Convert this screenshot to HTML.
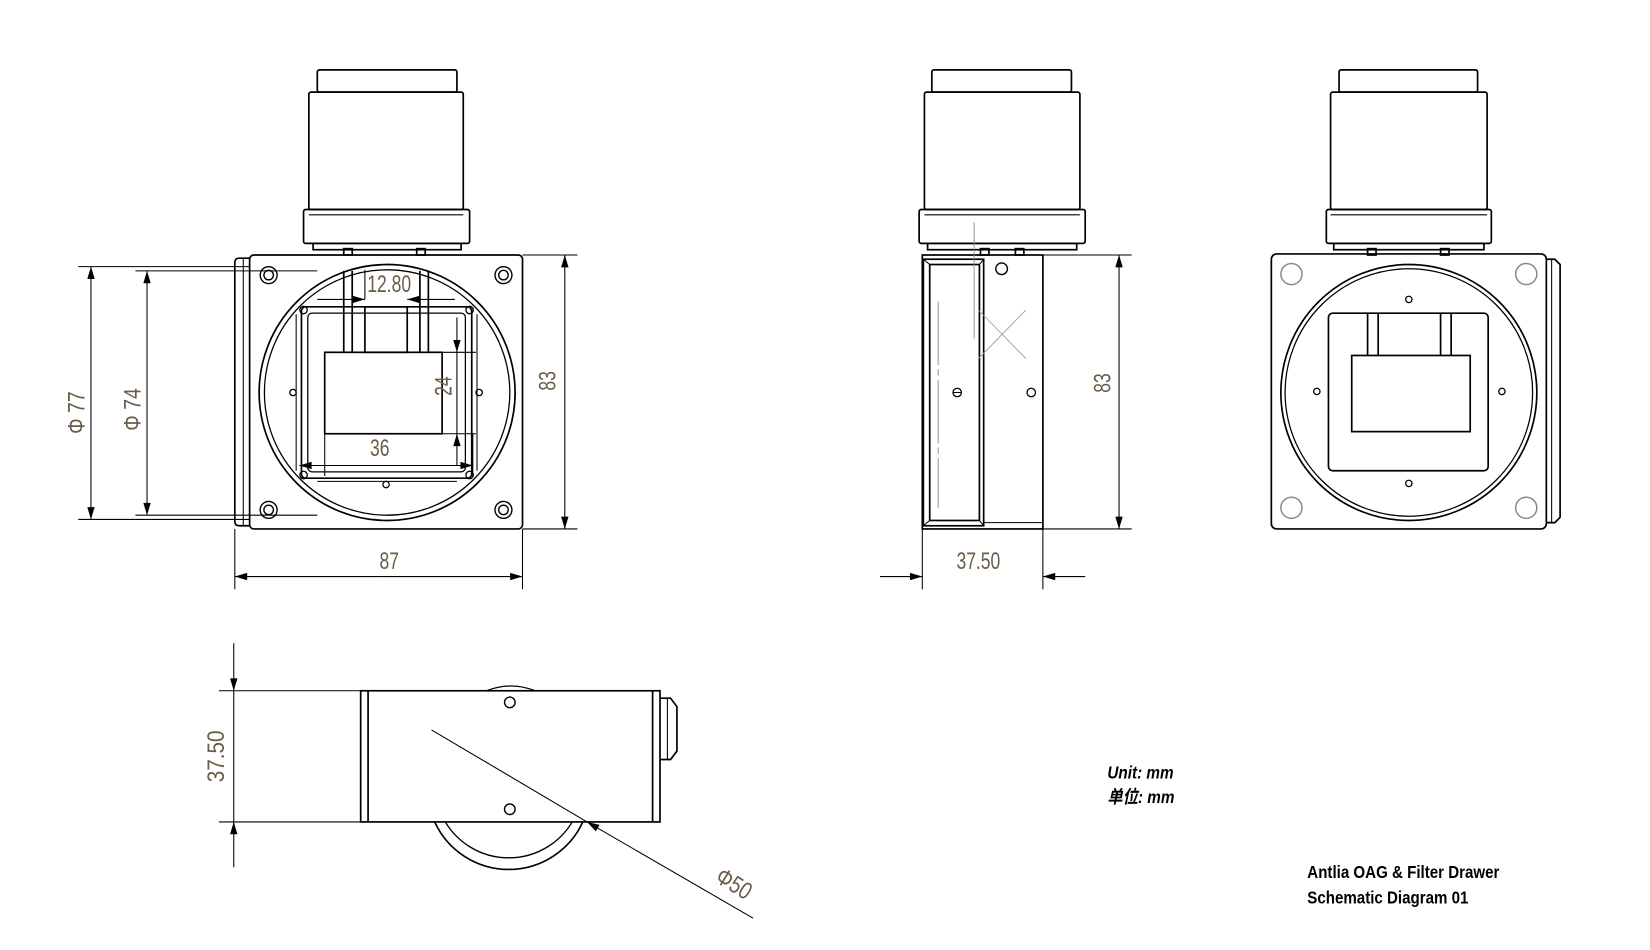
<!DOCTYPE html>
<html><head><meta charset="utf-8"><style>
html,body{margin:0;padding:0;background:#fff;}
svg{display:block;}
.d{font-family:"Liberation Sans",sans-serif;fill:#6b5c48;font-size:23px;}
.t{font-family:"Liberation Sans","Noto Sans CJK SC",sans-serif;font-weight:bold;fill:#000;}
</style></head><body>
<svg width="1650" height="950" viewBox="0 0 1560 898" xmlns="http://www.w3.org/2000/svg">
<defs>
<marker id="a" viewBox="0 0 10 6" refX="10" refY="3" markerWidth="20" markerHeight="7" markerUnits="userSpaceOnUse" orient="auto"><path d="M0,0L10,3L0,6z" fill="#000"/></marker>
</defs>
<g fill="none" stroke="#000" stroke-width="1.6">
<!-- LEFT FRONT VIEW -->
<rect x="300" y="66" width="132" height="21" rx="2"/>
<rect x="292" y="87" width="146" height="111" rx="2"/>
<rect x="287" y="198" width="157" height="32" rx="2"/>
<line x1="292" y1="203" x2="438" y2="203" stroke-width="1"/>
<rect x="296" y="230" width="140" height="6"/>
<rect x="325" y="235" width="8" height="6"/><rect x="394" y="235" width="8" height="6"/>
<rect x="236" y="241" width="258" height="259" rx="4"/>
<path d="M236 244 H226 Q222 244 222 248 V493 Q222 497 226 497 H236"/>
<line x1="230" y1="244" x2="230" y2="497" stroke-width="1"/>
<circle cx="366" cy="371" r="121"/><circle cx="366" cy="371" r="116" stroke-width="1.2"/>
<g stroke-width="1.3">
<circle cx="254" cy="260" r="8"/><circle cx="254" cy="260" r="4.5"/>
<circle cx="476" cy="260" r="8"/><circle cx="476" cy="260" r="4.5"/>
<circle cx="254" cy="482" r="8"/><circle cx="254" cy="482" r="4.5"/>
<circle cx="476" cy="482" r="8"/><circle cx="476" cy="482" r="4.5"/>
</g>
<rect x="285" y="290" width="161" height="162" rx="4"/>
<rect x="291" y="296" width="149" height="150" rx="4" stroke-width="1.2"/>
<line x1="280" y1="297" x2="280" y2="445" stroke-width="1"/><line x1="451" y1="297" x2="451" y2="445" stroke-width="1"/>
<line x1="300" y1="455" x2="432" y2="455" stroke-width="1"/>
<g stroke-width="1.2">
<circle cx="287" cy="293" r="3.5"/><circle cx="444" cy="293" r="3.5"/>
<circle cx="287" cy="449" r="3.5"/><circle cx="444" cy="449" r="3.5"/>
<circle cx="365" cy="458" r="3"/><circle cx="277" cy="371" r="3"/><circle cx="453" cy="371" r="3"/>
</g>
<line x1="325" y1="256" x2="325" y2="333"/><line x1="333" y1="256" x2="333" y2="333"/>
<line x1="397" y1="256" x2="397" y2="333"/><line x1="405" y1="256" x2="405" y2="333"/>
<rect x="345" y="290" width="40" height="43"/>
<rect x="307" y="333" width="111" height="77"/>
<line x1="418" y1="333" x2="450" y2="333" stroke-width="1"/><line x1="418" y1="410" x2="450" y2="410" stroke-width="1"/>
<line x1="307" y1="410" x2="307" y2="450" stroke-width="1"/><line x1="447" y1="410" x2="447" y2="450" stroke-width="1"/>
<g stroke-width="1">
<line x1="300" y1="283" x2="345" y2="283" marker-end="url(#a)"/>
<line x1="430" y1="283" x2="385" y2="283" marker-end="url(#a)"/>
<line x1="345" y1="283" x2="345" y2="255"/>
<line x1="432" y1="300" x2="432" y2="333" marker-end="url(#a)"/>
<line x1="432" y1="333" x2="432" y2="410"/>
<line x1="432" y1="440" x2="432" y2="410" marker-end="url(#a)"/>
<line x1="307" y1="440" x2="283" y2="440" marker-end="url(#a)"/>
<line x1="307" y1="440" x2="418" y2="440"/>
<line x1="418" y1="440" x2="447" y2="440" marker-end="url(#a)"/>
<line x1="74" y1="252" x2="236" y2="252"/><line x1="74" y1="491" x2="236" y2="491"/>
<line x1="128" y1="256" x2="300" y2="256"/><line x1="128" y1="487" x2="300" y2="487"/>
<line x1="86" y1="372" x2="86" y2="252" marker-end="url(#a)"/><line x1="86" y1="372" x2="86" y2="491" marker-end="url(#a)"/>
<line x1="139" y1="372" x2="139" y2="256" marker-end="url(#a)"/><line x1="139" y1="372" x2="139" y2="487" marker-end="url(#a)"/>
<line x1="494" y1="241" x2="546" y2="241"/><line x1="494" y1="500" x2="546" y2="500"/>
<line x1="534" y1="370" x2="534" y2="241" marker-end="url(#a)"/><line x1="534" y1="370" x2="534" y2="500" marker-end="url(#a)"/>
<line x1="222" y1="500" x2="222" y2="557"/><line x1="494" y1="500" x2="494" y2="557"/>
<line x1="358" y1="545" x2="222" y2="545" marker-end="url(#a)"/><line x1="358" y1="545" x2="494" y2="545" marker-end="url(#a)"/>
</g>

<!-- MIDDLE SIDE VIEW -->
<rect x="881" y="66" width="132" height="21" rx="2"/>
<rect x="874" y="87" width="147" height="111" rx="2"/>
<rect x="869" y="198" width="157" height="32" rx="2"/>
<line x1="874" y1="203" x2="1021" y2="203" stroke-width="1"/>
<rect x="877" y="230" width="141" height="6"/>
<rect x="927" y="235" width="8" height="6"/><rect x="960" y="235" width="8" height="6"/>
<rect x="872" y="241" width="114" height="259"/>
<rect x="873" y="245" width="57" height="252"/>
<rect x="879" y="250" width="47" height="242"/>
<line x1="873" y1="245" x2="879" y2="250" stroke-width="1"/><line x1="930" y1="245" x2="926" y2="250" stroke-width="1"/>
<line x1="873" y1="497" x2="879" y2="492" stroke-width="1"/><line x1="930" y1="497" x2="926" y2="492" stroke-width="1"/>
<line x1="930" y1="494" x2="986" y2="494" stroke-width="1"/>
<line x1="887" y1="285" x2="887" y2="480" stroke="#999" stroke-width="1" stroke-dasharray="60 4 6 4"/>
<line x1="921" y1="210" x2="921" y2="320" stroke="#888" stroke-width="0.8"/>
<g stroke="#999" stroke-width="0.8">
<line x1="925" y1="293" x2="970" y2="339"/><line x1="970" y1="293" x2="925" y2="339"/>
</g>
<circle cx="947" cy="254" r="5.5" stroke-width="1.3"/>
<circle cx="905" cy="371" r="4" stroke-width="1.2"/><line x1="901" y1="371" x2="909" y2="371" stroke-width="1"/>
<circle cx="975" cy="371" r="4" stroke-width="1.2"/>
<g stroke-width="1">
<line x1="986" y1="241" x2="1070" y2="241"/><line x1="986" y1="500" x2="1070" y2="500"/>
<line x1="1058" y1="370" x2="1058" y2="241" marker-end="url(#a)"/><line x1="1058" y1="370" x2="1058" y2="500" marker-end="url(#a)"/>
<line x1="872" y1="500" x2="872" y2="557"/><line x1="986" y1="500" x2="986" y2="557"/>
<line x1="832" y1="545" x2="872" y2="545" marker-end="url(#a)"/>
<line x1="1026" y1="545" x2="986" y2="545" marker-end="url(#a)"/>
</g>

<!-- RIGHT VIEW -->
<rect x="1266" y="66" width="131" height="21" rx="2"/>
<rect x="1258" y="87" width="148" height="111" rx="2"/>
<rect x="1254" y="198" width="156" height="32" rx="2"/>
<line x1="1258" y1="203" x2="1406" y2="203" stroke-width="1"/>
<rect x="1261" y="230" width="142" height="6"/>
<rect x="1293" y="235" width="8" height="6"/><rect x="1362" y="235" width="8" height="6"/>
<rect x="1202" y="240" width="260" height="260" rx="5"/>
<path d="M1462 245 H1470 L1475 250 V489 L1470 494 H1462"/>
<line x1="1467" y1="245" x2="1467" y2="494" stroke-width="1"/>
<circle cx="1332" cy="371" r="121"/><circle cx="1332" cy="371" r="117" stroke-width="1.2"/>
<g stroke="#888" stroke-width="1.4">
<circle cx="1221" cy="259" r="10"/><circle cx="1443" cy="259" r="10"/>
<circle cx="1221" cy="480" r="10"/><circle cx="1443" cy="480" r="10"/>
</g>
<rect x="1256" y="296" width="151" height="149" rx="4"/>
<line x1="1293" y1="296" x2="1293" y2="336"/><line x1="1303" y1="296" x2="1303" y2="336"/>
<line x1="1362" y1="296" x2="1362" y2="336"/><line x1="1372" y1="296" x2="1372" y2="336"/>
<rect x="1278" y="336" width="112" height="72"/>
<g stroke-width="1.2">
<circle cx="1332" cy="283" r="3"/><circle cx="1332" cy="457" r="3"/>
<circle cx="1245" cy="370" r="3"/><circle cx="1420" cy="370" r="3"/>
</g>

<!-- BOTTOM VIEW -->
<path d="M411 777 A77 77 0 0 0 551 777"/>
<path d="M421 777 A70 70 0 0 0 541 777" stroke-width="1.3"/>
<path d="M460 653 Q483 644 506 653" stroke-width="1.2"/>
<rect x="341" y="653" width="283" height="124"/>
<line x1="348" y1="653" x2="348" y2="777"/><line x1="617" y1="653" x2="617" y2="777"/>
<path d="M624 660 H634 L640 668 V710 L634 718 H624"/><line x1="631" y1="660" x2="631" y2="718" stroke-width="1"/>
<circle cx="482" cy="664" r="5" stroke-width="1.3"/><circle cx="482" cy="765" r="5" stroke-width="1.3"/>
<g stroke-width="1">
<line x1="207" y1="653" x2="341" y2="653"/><line x1="207" y1="777" x2="341" y2="777"/>
<line x1="221" y1="608" x2="221" y2="653" marker-end="url(#a)"/>
<line x1="221" y1="653" x2="221" y2="777"/>
<line x1="221" y1="820" x2="221" y2="777" marker-end="url(#a)"/>
<line x1="408" y1="690" x2="555" y2="777"/>
<line x1="712" y1="868" x2="555" y2="777" marker-end="url(#a)"/>
</g>
</g>

<!-- dimension text -->
<text class="d" transform="translate(368,276) scale(0.72,1)" text-anchor="middle">12.80</text>
<text class="d" transform="translate(359,431) scale(0.72,1)" text-anchor="middle">36</text>
<text class="d" transform="translate(427,365) rotate(-90) scale(0.72,1)" text-anchor="middle">24</text>
<text class="d" transform="translate(80,390) rotate(-90) scale(0.8,1)" text-anchor="middle">Φ 77</text>
<text class="d" transform="translate(133,387) rotate(-90) scale(0.8,1)" text-anchor="middle">Φ 74</text>
<text class="d" transform="translate(525,360) rotate(-90) scale(0.72,1)" text-anchor="middle">83</text>
<text class="d" transform="translate(368,538) scale(0.72,1)" text-anchor="middle">87</text>
<text class="d" transform="translate(1050,362) rotate(-90) scale(0.72,1)" text-anchor="middle">83</text>
<text class="d" transform="translate(925,538) scale(0.72,1)" text-anchor="middle">37.50</text>
<text class="d" transform="translate(212,715) rotate(-90) scale(0.85,1)" text-anchor="middle">37.50</text>
<text class="d" transform="translate(690,842) rotate(32) scale(0.8,1)" text-anchor="middle">Φ50</text>

<text class="t" transform="translate(1047,736) scale(0.85,1)" font-size="17" font-style="italic">Unit:  mm</text>
<text class="t" transform="translate(1047,759) scale(0.85,1)" font-size="17" font-style="italic">单位: mm</text>
<text class="t" transform="translate(1236,830) scale(0.84,1)" font-size="17">Antlia OAG &amp; Filter Drawer</text>
<text class="t" transform="translate(1236,854) scale(0.84,1)" font-size="17">Schematic Diagram 01</text>
</svg>
</body></html>
